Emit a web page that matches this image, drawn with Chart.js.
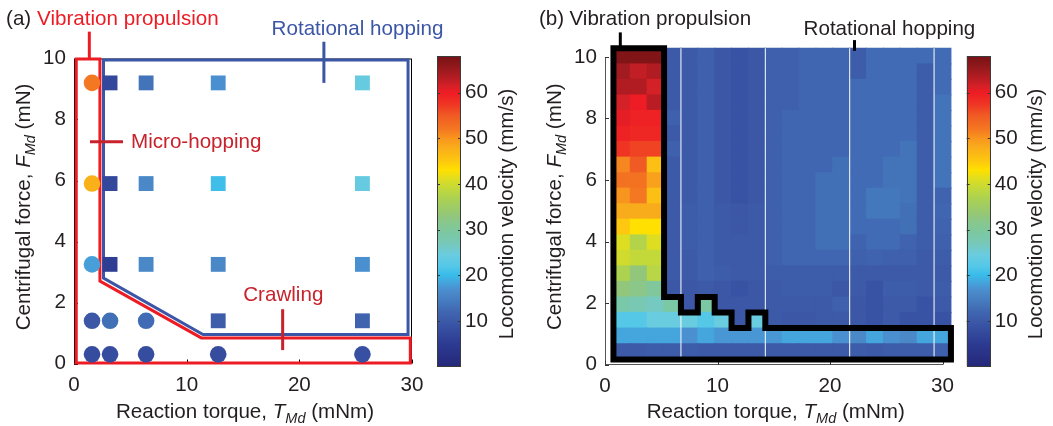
<!DOCTYPE html>
<html>
<head>
<meta charset="utf-8">
<script src="https://cdn.jsdelivr.net/npm/chart.js@4.4.1/dist/chart.umd.min.js"></script>
<style>
  body { margin: 0; background: #fff; }
  #wrap { position: relative; width: 1053px; height: 426px; overflow: hidden; }
  canvas { position: absolute; top: 0; }
</style>
</head>
<body>
<div id="wrap">
  <canvas id="chartA" width="520" height="426" style="left:0px"></canvas>
  <canvas id="barA" width="95" height="426" style="left:425px"></canvas>
  <canvas id="chartB" width="533" height="426" style="left:520px"></canvas>
  <canvas id="barB" width="98" height="426" style="left:955px"></canvas>
</div>
<script>
// (a) measured operating points
const torqueA = [1.6, 3.2, 6.4, 12.8, 25.6];
const forceA = [0.3, 1.4, 3.25, 5.9, 9.2];
const velocityA = [
  [8, 8, 8, 8, 8.5],
  [9.5, 13, 12.5, 10.5, 11.5],
  [18, 5.5, 16, 16, 17],
  [47.5, 7, 16, 20.5, 24],
  [52, 7, 13.5, 17, 24]
];
// 1 = rotational hopping (square), 0 = vibration propulsion (circle)
const hoppingA = [
  [0, 0, 0, 0, 0],
  [0, 0, 0, 1, 1],
  [0, 1, 1, 1, 1],
  [0, 1, 1, 1, 1],
  [0, 1, 1, 1, 1]
];
const vibrationRegion = [[0.2, 0.02], [0.2, 9.98], [2.3, 9.98], [2.3, 2.7], [11.3, 0.84], [29.85, 0.84], [29.85, 0.02]];
const hoppingRegion = [[2.62, 9.95], [29.65, 9.95], [29.65, 0.95], [11.45, 0.95], [2.62, 2.8]];

// (b) simulated map, rows follow forceB (bottom to top)
const torqueB = [1.5, 3, 4.5, 6, 7.5, 9, 10.5, 12, 13.5, 15, 16.5, 18, 19.5, 21, 22.5, 24, 25.5, 27, 28.5, 30];
const forceB = [0.42, 0.93, 1.44, 1.94, 2.45, 2.95, 3.46, 3.96, 4.47, 4.97, 5.48, 5.98, 6.49, 7.0, 7.5, 8.01, 8.51, 9.02, 9.52, 10.03];
const velocityB = [
  [10, 10, 10.5, 10.5, 10.5, 10, 10, 10, 10, 10, 10, 10, 10, 10, 10.5, 10, 10.5, 10.5, 10.5, 11],
  [18.5, 18.5, 18.5, 18.5, 17, 18.5, 17.5, 17.5, 17.5, 17.5, 18.5, 18.5, 18.5, 17, 16, 18.5, 17, 16, 18.5, 18.5],
  [22, 22, 24.5, 24.5, 24.5, 22, 24.5, 9.5, 24.5, 10, 9.5, 9.5, 10, 10, 9.5, 9, 10, 9, 9, 9],
  [28.5, 27.5, 26.5, 29, 9.5, 29, 9.5, 9.5, 9.5, 10, 10, 10, 10, 11, 9.5, 9, 10, 10, 9, 10],
  [33, 32, 30, 9.5, 9.5, 10, 9.5, 9, 9.5, 10, 10.5, 10.5, 10.5, 9.5, 10, 9, 10.5, 10.5, 10, 10.5],
  [37, 33, 38, 10, 10, 11, 10.5, 10, 10, 10.5, 10.5, 10.5, 10.5, 10.5, 10, 10, 10, 10, 10, 10],
  [40, 39, 39, 10, 10, 11, 10, 10, 10, 11, 12, 12, 12, 12, 11, 11.5, 11, 11, 10, 10.5],
  [41, 37.5, 41, 10, 10.5, 11, 10, 10, 10, 11, 12, 12, 13, 13, 11.5, 12.5, 12.5, 11.5, 10.5, 11],
  [45, 43, 43, 10, 10.5, 11, 10, 9.5, 10, 11, 12, 12, 13, 13, 12.5, 12.5, 12.5, 13, 10.5, 11.5],
  [48, 48, 48, 10, 10.5, 11, 10, 9.5, 10, 11, 12, 12, 13, 13, 12.5, 14, 14, 13, 10.5, 12],
  [50, 52, 46, 10, 10, 11, 9.5, 9, 9.5, 11, 12, 12, 13, 13, 12.5, 14, 14, 13.5, 10.5, 11.5],
  [52.5, 52.5, 49, 10, 10, 11, 9.5, 9, 9.5, 11, 12, 12, 13, 13, 12.5, 12.5, 13.5, 13.5, 10.5, 13.5],
  [51, 55, 46, 10, 10, 11, 9.5, 9, 9.5, 11, 12, 12, 12, 13, 12.5, 12.5, 13.5, 13.5, 10.5, 13.5],
  [57.5, 56.5, 56.5, 11, 10, 11, 9.5, 9, 9.5, 11, 12, 12, 12, 12, 12.5, 12.5, 12.5, 13.5, 10.5, 13.5],
  [59.5, 59, 59, 10, 10, 11, 9.5, 9, 9.5, 11, 12, 12, 12, 12, 12.5, 12.5, 12.5, 12.5, 10.5, 13.5],
  [60.5, 59.5, 59.5, 11, 10, 11, 9.5, 9, 9.5, 11, 12, 12, 12, 12, 12.5, 12.5, 12.5, 12.5, 10.5, 13.5],
  [61.5, 60, 63, 10, 10, 11, 9.5, 9, 9.5, 11, 11, 12, 12, 12, 12.5, 12.5, 12.5, 12.5, 10.5, 13.5],
  [63.5, 63.5, 61.5, 10, 10, 11, 9.5, 9, 9.5, 11, 11, 12, 12, 12, 12.5, 12.5, 12.5, 12.5, 10.5, 12.5],
  [64.5, 62.5, 63.5, 10, 10, 11, 9.5, 9, 9.5, 11, 11, 12, 12, 12, 10.5, 12.5, 12.5, 12.5, 10.5, 12.5],
  [67, 67, 67, 10, 10, 11, 9.5, 9, 9.5, 11, 11, 12, 12, 12, 10.5, 12.5, 12.5, 12.5, 12.5, 12.5]
];
// highest row index of each column that belongs to vibration propulsion
const vibrationTopRow = [19, 19, 19, 3, 2, 3, 2, 1, 2, 1, 1, 1, 1, 1, 1, 1, 1, 1, 1, 1];
const seamsB = [6.75, 14.25, 21.75, 29.25];

const cbTicks = [10, 20, 30, 40, 50, 60];
const cbMax = 68;

const cmap = [
  [0, '#25287a'], [5, '#2c3b91'], [9, '#3953a4'], [10, '#3c5aa8'], [11, '#3e60ad'], [12, '#4066b1'],
  [13, '#4270b6'], [14, '#4478bd'], [16, '#4a88c8'], [17, '#4a90d0'], [18.5, '#44a6dc'], [20, '#38bbea'],
  [22, '#55c8e8'], [24.5, '#6accdf'], [27, '#78c8b8'], [29, '#7bc8a5'], [32, '#8ac788'], [33, '#92c67a'],
  [37, '#add24f'], [39, '#c3d93a'], [41, '#dddd22'], [43, '#ffe000'], [45, '#fdc80f'], [48, '#f9ac1b'],
  [50, '#f8951e'], [52, '#f47721'], [55, '#f05a24'], [57.5, '#ef3424'], [60, '#ee1c24'], [61.5, '#d42027'],
  [63.5, '#b01c22'], [64.5, '#a21b20'], [67, '#801416'], [68, '#7a1317']
];

const FONT = "'Liberation Sans', Arial, Helvetica, sans-serif";
const INK = '#231f20';
const RED = '#ed1c24';
const DARKRED = '#c8222c';
const BLUE = '#3b56a6';

function hex(c) {
  return [1, 3, 5].map(i => parseInt(c.slice(i, i + 2), 16));
}
function velColor(v) {
  if (v <= cmap[0][0]) return cmap[0][1];
  for (let i = 1; i < cmap.length; i++) {
    if (v <= cmap[i][0]) {
      const t = (v - cmap[i - 1][0]) / (cmap[i][0] - cmap[i - 1][0]);
      const a = hex(cmap[i - 1][1]), b = hex(cmap[i][1]);
      return 'rgb(' + a.map((x, k) => Math.round(x + (b[k] - x) * t)).join(',') + ')';
    }
  }
  return cmap[cmap.length - 1][1];
}

// start/end the outline half way along the closing edge so every corner gets a mitre
function closedPath(verts) {
  const first = verts[0], last = verts[verts.length - 1];
  const mid = {x: (first[0] + last[0]) / 2, y: (first[1] + last[1]) / 2};
  return [mid, ...verts.map(([x, y]) => ({x, y})), mid];
}

function outlineB() {
  const half = (torqueB[1] - torqueB[0]) / 2, hh = (forceB[1] - forceB[0]) / 2;
  const bottom = forceB[0] - hh;
  const pts = [{x: torqueB[0] - half, y: bottom}];
  vibrationTopRow.forEach((r, c) => {
    pts.push({x: torqueB[c] - half, y: forceB[r] + hh}, {x: torqueB[c] + half, y: forceB[r] + hh});
  });
  const right = torqueB[torqueB.length - 1] + half;
  pts.push({x: right, y: bottom});
  const mid = {x: (pts[0].x + right) / 2, y: bottom};
  return [mid, ...pts, mid];
}

function drawRich(ctx, parts, x, y, align, rot) {
  ctx.save();
  ctx.translate(x, y);
  ctx.rotate(rot || 0);
  let w = 0;
  parts.forEach(p => { ctx.font = p.font; w += ctx.measureText(p.t).width; });
  let cx = align === 'center' ? -w / 2 : 0;
  ctx.textAlign = 'left';
  ctx.textBaseline = 'alphabetic';
  parts.forEach(p => {
    ctx.font = p.font;
    ctx.fillStyle = p.color || INK;
    ctx.fillText(p.t, cx, p.dy || 0);
    cx += ctx.measureText(p.t).width;
  });
  ctx.restore();
}

const SIZE = 20.6;
const F20 = SIZE + 'px ' + FONT, I20 = 'italic ' + SIZE + 'px ' + FONT, I14 = 'italic 14.5px ' + FONT;
function axisTitle(pre, sym, post) {
  return [{t: pre, font: F20}, {t: sym, font: I20}, {t: 'Md', font: I14, dy: 5}, {t: post, font: F20}];
}

function decorPlugin(cfg) {
  return {
    id: 'decor',
    beforeDatasetsDraw(chart) {
      const {ctx, chartArea: a, scales: {x, y}} = chart;
      ctx.save();
      ctx.strokeStyle = cfg.axisColor;
      ctx.lineWidth = 1;
      if (cfg.box) ctx.strokeRect(a.left + 0.5, a.top + 0.5, a.width - 1, a.height - 1);
      ctx.beginPath();
      x.ticks.forEach(t => {
        const px = Math.round(x.getPixelForValue(t.value)) + 0.5;
        ctx.moveTo(px, a.bottom); ctx.lineTo(px, a.bottom - 4);
      });
      y.ticks.forEach(t => {
        const py = Math.round(y.getPixelForValue(t.value)) + 0.5;
        ctx.moveTo(a.left, py); ctx.lineTo(a.left + 4, py);
      });
      ctx.stroke();
      ctx.restore();
    },
    afterDatasetsDraw(chart) {
      const {ctx, chartArea: a, scales: {x, y}} = chart;
      ctx.save();
      ctx.lineCap = 'butt';
      cfg.leaders.forEach(l => {
        ctx.strokeStyle = l.color;
        ctx.lineWidth = l.w;
        ctx.beginPath();
        ctx.moveTo(x.getPixelForValue(l.x1), y.getPixelForValue(l.y1));
        ctx.lineTo(x.getPixelForValue(l.x2), y.getPixelForValue(l.y2));
        ctx.stroke();
      });
      cfg.texts.forEach(t => {
        drawRich(ctx, [{t: t.t, font: F20, color: t.color}], x.getPixelForValue(t.x), y.getPixelForValue(t.y), 'left');
      });
      drawRich(ctx, axisTitle('Reaction torque, ', 'T', ' (mNm)'), (a.left + a.right) / 2 + 2, 418, 'center');
      drawRich(ctx, axisTitle('Centrifugal force, ', 'F', ' (mN)'), a.left - 44.5, (a.top + a.bottom) / 2 - 4, 'center', -Math.PI / 2);
      ctx.restore();
    }
  };
}

const tickFont = {family: FONT, size: SIZE};
function mainScales(padLeftWidth, xHeight, axisColor, showBorder) {
  return {
    x: {
      type: 'linear', min: 0, max: 30, offset: false,
      ticks: {stepSize: 10, font: tickFont, color: INK, padding: 9},
      grid: {display: false, drawTicks: false, offset: false},
      border: {display: showBorder, color: axisColor},
      afterFit: s => { s.height = xHeight; }
    },
    y: {
      type: 'linear', min: 0, max: 10,
      ticks: {stepSize: 2, font: tickFont, color: INK, padding: 8},
      grid: {display: false, drawTicks: false},
      border: {display: showBorder, color: axisColor},
      afterFit: s => { s.width = padLeftWidth; }
    }
  };
}

// ---------- panel (a)
const circles = [], squares = [];
forceA.forEach((f, r) => torqueA.forEach((t, c) => {
  (hoppingA[r][c] ? squares : circles).push({x: t, y: f, v: velocityA[r][c]});
}));

new Chart(document.getElementById('chartA'), {
  type: 'scatter',
  data: {
    datasets: [
      {data: circles, pointStyle: 'circle', pointRadius: 8.3, pointBorderWidth: 0,
       pointBackgroundColor: circles.map(p => velColor(p.v)), order: 0, clip: false},
      {data: squares, pointStyle: 'rect', pointRadius: 10.5, pointBorderWidth: 0,
       pointBackgroundColor: squares.map(p => velColor(p.v)), order: 0, clip: false},
      {data: closedPath(vibrationRegion), showLine: true, borderColor: RED, borderWidth: 3,
       pointRadius: 0, borderJoinStyle: 'miter', tension: 0, order: 1, clip: false},
      {data: closedPath(hoppingRegion), showLine: true, borderColor: BLUE, borderWidth: 3,
       pointRadius: 0, borderJoinStyle: 'miter', tension: 0, order: 1, clip: false}
    ]
  },
  options: {
    responsive: false, animation: false, devicePixelRatio: 1,
    layout: {padding: {left: 0, top: 58.5, right: 108, bottom: 0}},
    plugins: {legend: {display: false}, tooltip: {enabled: false}},
    scales: mainScales(74, 62.5, '#000', false)
  },
  plugins: [decorPlugin({
    box: true, axisColor: '#000',
    leaders: [
      {x1: 1.36, y1: 10.88, x2: 1.36, y2: 9.98, color: RED, w: 3},
      {x1: 22.18, y1: 10.55, x2: 22.18, y2: 9.2, color: BLUE, w: 3},
      {x1: 1.42, y1: 7.27, x2: 4.35, y2: 7.27, color: DARKRED, w: 3},
      {x1: 18.52, y1: 1.78, x2: 18.52, y2: 0.44, color: DARKRED, w: 3}
    ],
    texts: [
      {t: '(a)', x: -6.03, y: 11.1, color: INK},
      {t: 'Vibration propulsion', x: -3.28, y: 11.1, color: RED},
      {t: 'Rotational hopping', x: 17.54, y: 10.77, color: BLUE},
      {t: 'Micro-hopping', x: 5.06, y: 7.07, color: DARKRED},
      {t: 'Crawling', x: 15.02, y: 2.04, color: DARKRED}
    ]
  })]
});

// ---------- panel (b)
const rowH = forceB[1] - forceB[0];
const cellSets = forceB.map((f, r) => ({
  type: 'bar',
  data: torqueB.map(t => ({x: t, y: [f - rowH / 2, f + rowH / 2]})),
  backgroundColor: velocityB[r].map(velColor),
  borderWidth: 0, grouped: false, barPercentage: 1, categoryPercentage: 1,
  inflateAmount: 0.5, clip: false, order: 2
}));
const seamSets = seamsB.map(s => ({
  type: 'line',
  data: [{x: s, y: forceB[0] - rowH / 2}, {x: s, y: forceB[forceB.length - 1] + rowH / 2}],
  borderColor: '#ffffff', borderWidth: 1, pointRadius: 0, clip: false, order: 1
}));

new Chart(document.getElementById('chartB'), {
  type: 'bar',
  data: {
    datasets: [
      {type: 'line', data: outlineB(), borderColor: '#000', borderWidth: 6, pointRadius: 0,
       borderJoinStyle: 'miter', tension: 0, clip: false, order: 0},
      ...seamSets,
      ...cellSets
    ]
  },
  options: {
    responsive: false, animation: false, devicePixelRatio: 1,
    layout: {padding: {left: 0, top: 57, right: 110.5, bottom: 0}},
    plugins: {legend: {display: false}, tooltip: {enabled: false}},
    scales: mainScales(85, 61.5, '#555', true)
  },
  plugins: [decorPlugin({
    box: false, axisColor: '#333',
    leaders: [
      {x1: 1.36, y1: 10.8, x2: 1.36, y2: 10.28, color: '#000', w: 3},
      {x1: 22.18, y1: 10.55, x2: 22.18, y2: 10.2, color: '#000', w: 3}
    ],
    texts: [
      {t: '(b)', x: -5.87, y: 11.04, color: INK},
      {t: 'Vibration propulsion', x: -3.16, y: 11.04, color: INK},
      {t: 'Rotational hopping', x: 17.65, y: 10.71, color: INK}
    ]
  })]
});

// ---------- colour bars
function colorbar(id, padLeft, axisWidth, titleX) {
  new Chart(document.getElementById(id), {
    type: 'bar',
    data: {
      labels: [''],
      datasets: [{
        data: [[0, cbMax]],
        barPercentage: 1, categoryPercentage: 1, borderWidth: 0,
        backgroundColor: c => {
          const a = c.chart.chartArea;
          if (!a) return '#3c5aa8';
          const g = c.chart.ctx.createLinearGradient(0, a.bottom, 0, a.top);
          cmap.forEach(([v, col]) => g.addColorStop(v / cbMax, col));
          return g;
        }
      }]
    },
    options: {
      responsive: false, animation: false, devicePixelRatio: 1,
      layout: {padding: {left: padLeft, top: 56, right: 0, bottom: 59.5}},
      plugins: {legend: {display: false}, tooltip: {enabled: false}},
      scales: {
        x: {display: false},
        y: {
          position: 'right', min: 0, max: cbMax,
          afterBuildTicks: s => { s.ticks = cbTicks.map(v => ({value: v})); },
          ticks: {font: tickFont, color: INK, padding: 4},
          grid: {display: false, drawTicks: false},
          border: {display: false},
          afterFit: s => { s.width = axisWidth; }
        }
      }
    },
    plugins: [{
      id: 'cbdecor',
      afterDatasetsDraw(chart) {
        const {ctx, chartArea: a, scales: {y}} = chart;
        ctx.save();
        ctx.strokeStyle = '#3a3a3a';
        ctx.lineWidth = 1;
        ctx.strokeRect(Math.round(a.left) + 0.5, Math.round(a.top) + 0.5, Math.round(a.width) - 1, Math.round(a.height) - 1);
        ctx.beginPath();
        cbTicks.forEach(v => {
          const py = Math.round(y.getPixelForValue(v)) + 0.5;
          ctx.moveTo(a.left, py); ctx.lineTo(a.left + 3, py);
          ctx.moveTo(a.right, py); ctx.lineTo(a.right - 3, py);
        });
        ctx.stroke();
        drawRich(ctx, [{t: 'Locomotion velocity (mm/s)', font: F20}], titleX, 214, 'center', -Math.PI / 2);
        ctx.restore();
      }
    }]
  });
}
colorbar('barA', 12, 59, 87.5);
colorbar('barB', 11.7, 62.3, 87);
</script>
</body>
</html>
